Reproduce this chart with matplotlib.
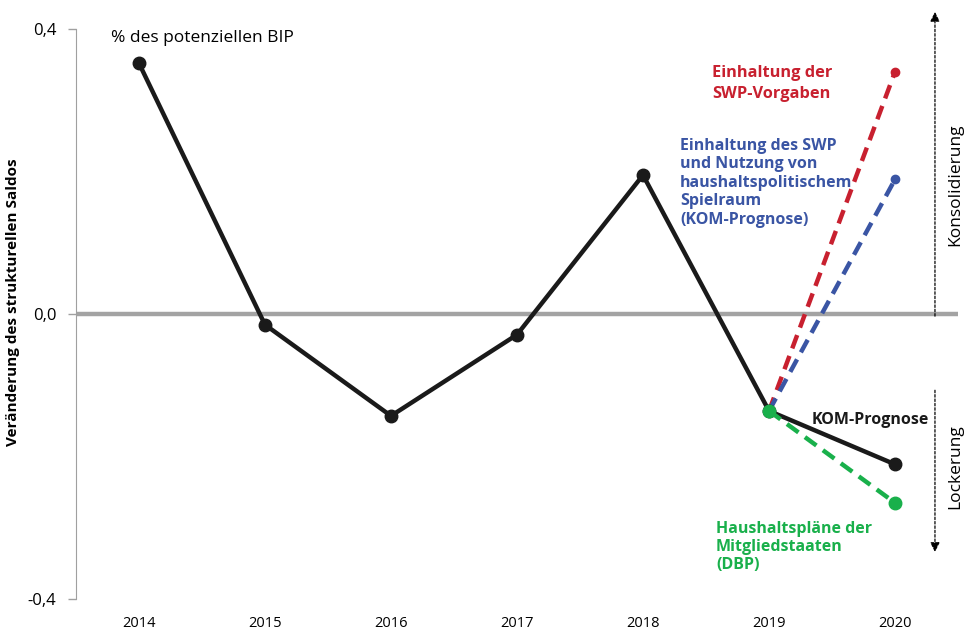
import matplotlib
matplotlib.use("Agg")
import matplotlib.pyplot as plt

# --- data
years = ["2014", "2015", "2016", "2017", "2018", "2019", "2020"]
kom = [0.352, -0.015, -0.143, -0.029, 0.195, -0.136, -0.211]
dbp = [-0.136, -0.265]          # 2019 -> 2020
swp = [-0.136, 0.340]           # 2019 -> 2020
spielraum = [-0.136, 0.189]     # 2019 -> 2020
yticks = [-0.4, 0.0, 0.4]
ytick_labels = ["-0,4", "0,0", "0,4"]

plt.rcParams['font.family'] = ['Open Sans', 'DejaVu Sans']

RED = "#c8202f"
BLUE = "#3a55a4"
GREEN = "#19b04b"
BLACK = "#1a1a1a"

fig = plt.figure(figsize=(9.64, 6.31), dpi=100)
ax = fig.add_axes([0.0788, 0.0507, 0.9150, 0.9033])

x = list(range(len(years)))
ax.axhline(0, color="#a3a3a3", lw=3.2, zorder=1)

ax.plot(x, kom, color=BLACK, lw=3.2, marker="o", ms=9, zorder=3)
ax.plot(x[-2:], swp, color=RED, lw=3.2, ls=(0, (3.2, 1.8)), zorder=2)
ax.plot(x[-1], swp[-1], "o", color=RED, ms=6, zorder=2)
ax.plot(x[-2:], spielraum, color=BLUE, lw=3.2, ls=(0, (3.2, 1.8)), zorder=2)
ax.plot(x[-1], spielraum[-1], "o", color=BLUE, ms=6, zorder=2)
ax.plot(x[-2:], dbp, color=GREEN, lw=3.2, ls=(0, (3.2, 1.8)), marker="o", ms=9, zorder=4)

ax.set_xlim(-0.5, 6.5)
ax.set_ylim(-0.4, 0.4)
ax.set_xticks(x)
ax.set_xticklabels(years, fontsize=10.5)
ax.set_yticks(yticks)
ax.set_yticklabels(ytick_labels, fontsize=12)
ax.tick_params(axis="x", length=0, pad=12)
ax.tick_params(axis="y", length=6, color="#a0a0a0", width=1, pad=8)
for s in ["top", "right", "bottom"]:
    ax.spines[s].set_visible(False)
ax.spines["left"].set_color("#a0a0a0")
ax.set_ylabel("Veränderung des strukturellen Saldos", fontsize=11,
              fontweight="bold")
ax.yaxis.set_label_coords(-0.063, 0.521)

ax.text(-0.22, 0.387, "% des potenziellen BIP", fontsize=12.5, va="center", ha="left")

ax.text(4.548, 0.350, "Einhaltung der\nSWP-Vorgaben", color=RED, fontsize=11.8,
        fontweight="bold", va="top", ha="left", linespacing=1.48)
ax.text(4.294, 0.247, "Einhaltung des SWP\nund Nutzung von\nhaushaltspolitischem\nSpielraum\n(KOM-Prognose)",
        color=BLUE, fontsize=11.5, fontweight="bold", va="top", ha="left", linespacing=1.2)
ax.text(5.341, -0.149, "KOM-Prognose", color=BLACK, fontsize=11.5,
        fontweight="bold", va="center", ha="left")
ax.text(4.579, -0.291, "Haushaltspläne der\nMitgliedstaaten\n(DBP)", color=GREEN,
        fontsize=11.5, fontweight="bold", va="top", ha="left", linespacing=1.14)

# direction arrows on the right
ax.annotate("", xy=(6.317, 0.424), xytext=(6.317, -0.003), annotation_clip=False,
            arrowprops=dict(arrowstyle="-|>", color="black", ls=(0, (2, 1.5)), lw=0.9,
                            mutation_scale=14, shrinkA=0, shrinkB=0))
ax.annotate("", xy=(6.317, -0.334), xytext=(6.317, -0.107), annotation_clip=False,
            arrowprops=dict(arrowstyle="-|>", color="black", ls=(0, (2, 1.5)), lw=0.9,
                            mutation_scale=14, shrinkA=0, shrinkB=0))
ax.text(6.476, 0.181, "Konsolidierung", rotation=90, fontsize=12.5,
        va="center", ha="center", clip_on=False)
ax.text(6.476, -0.214, "Lockerung", rotation=90, fontsize=12.5,
        va="center", ha="center", clip_on=False)

fig.savefig("out.png", dpi=100)
